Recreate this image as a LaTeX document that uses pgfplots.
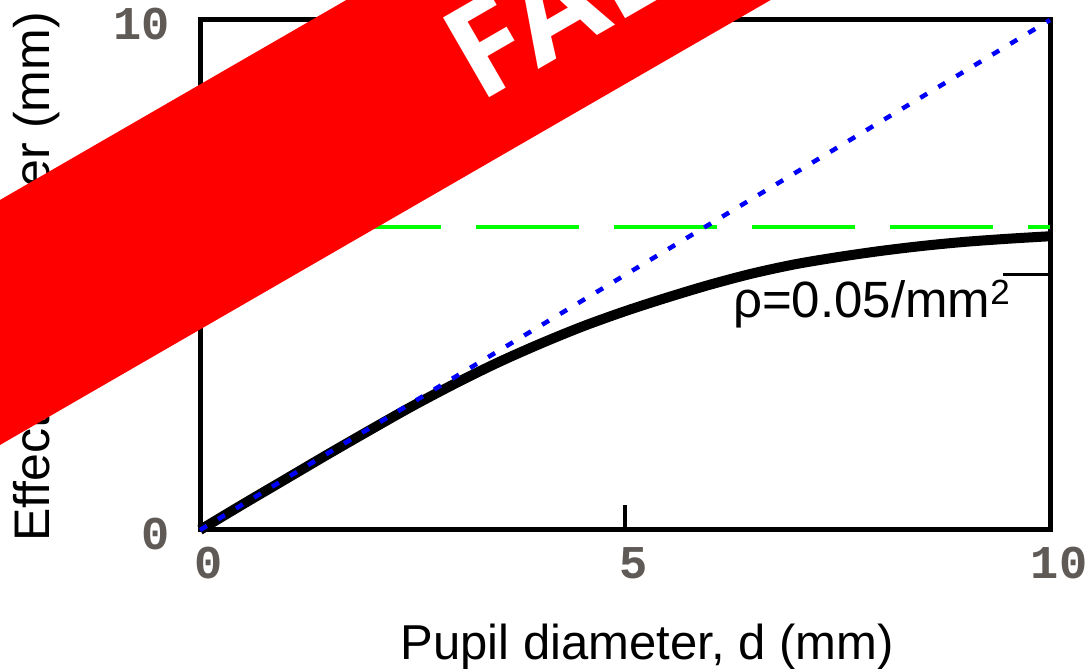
\documentclass[border=0pt]{standalone}
\usepackage{fontspec}
\setmainfont{Liberation Sans}
\newfontfamily\monofont{Liberation Mono}
\newfontfamily\bannerfont{Open Sans}
\usepackage{pgfplots}
\usepackage{pgfplotstable}
\pgfplotsset{compat=1.18}
\definecolor{bannerred}{RGB}{255,0,0}
\definecolor{mygreen}{RGB}{0,255,0}
\definecolor{myblue}{RGB}{0,0,250}
\definecolor{ticklab}{RGB}{95,90,85}

\pgfplotstableread{
x y
0 0
0.5 0.5
1.0 0.99
1.5 1.48
2.0 1.96
2.5 2.43
3.0 2.87
3.5 3.28
4.0 3.65
4.5 3.99
5.0 4.29
5.5 4.56
6.0 4.81
6.5 5.03
7.0 5.21
7.5 5.35
8.0 5.47
8.5 5.57
9.0 5.65
9.5 5.71
10 5.76
}\curvetable

\pgfplotstableread{
x y
0 0
10 10
}\idtable

\pgfplotstableread{
x y
0 5.94
10 5.94
}\limtable

\begin{document}
\begin{tikzpicture}[x=1pt,y=1pt]
\useasboundingbox (0,0) rectangle (1090,669);
\clip (0,0) rectangle (1090,669);
\begin{axis}[
  at={(200pt,139pt)}, anchor=south west,
  width=850pt, height=510pt, scale only axis,
  xmin=0, xmax=10, ymin=0, ymax=10,
  clip=false,
  axis line style={line width=5pt, black},
  tick align=inside,
  major tick length=25pt,
  every tick/.style={black, line width=4pt},
  xtick={0,5,10}, xticklabels={0,5,10},
  ytick={0,10}, yticklabels={0,10},
  xticklabel style={font=\monofont\bfseries\fontsize{47}{47}\selectfont, text=ticklab, anchor=north, inner sep=0pt, yshift=-17pt, xshift=9pt},
  yticklabel style={font=\monofont\bfseries\fontsize{47}{47}\selectfont, text=ticklab, anchor=east, inner sep=0pt, xshift=-30pt, yshift=-4pt},
]
\addplot[black, line width=10pt, smooth] table[x=x, y=y] {\curvetable};
\addplot[mygreen, line width=4pt, dash pattern=on 103pt off 35pt] table[x=x, y=y] {\limtable};
\addplot[myblue, line width=4.5pt, dash pattern=on 8pt off 13pt] table[x=x, y=y] {\idtable};
\draw[black, line width=3pt] (axis cs:10,5) -- ++(-47pt,0pt);
\node[anchor=base west, inner sep=0pt, font=\fontsize{51}{51}\selectfont] at (axis cs:6.27,4.16) {ρ=0.05/mm\raisebox{13pt}{\fontsize{35}{35}\selectfont 2}};
\end{axis}
\node[anchor=base, rotate=90, inner sep=0pt, font=\fontsize{50}{50}\selectfont] at (49,392) {Effective diameter (mm)};
\node[anchor=base, inner sep=0pt, font=\fontsize{49}{49}\selectfont] at (647,9) {Pupil diameter, d (mm)};
\fill[bannerred] (-100,166.3) -- (1200,916.9) -- (1200,1161.9) -- (-100,411.3) -- cycle;
\node[rotate=30, text=white, inner sep=0pt, font=\bannerfont\bfseries\fontsize{129}{129}\selectfont] at (618,699) {FALSE};
\end{tikzpicture}
\end{document}
